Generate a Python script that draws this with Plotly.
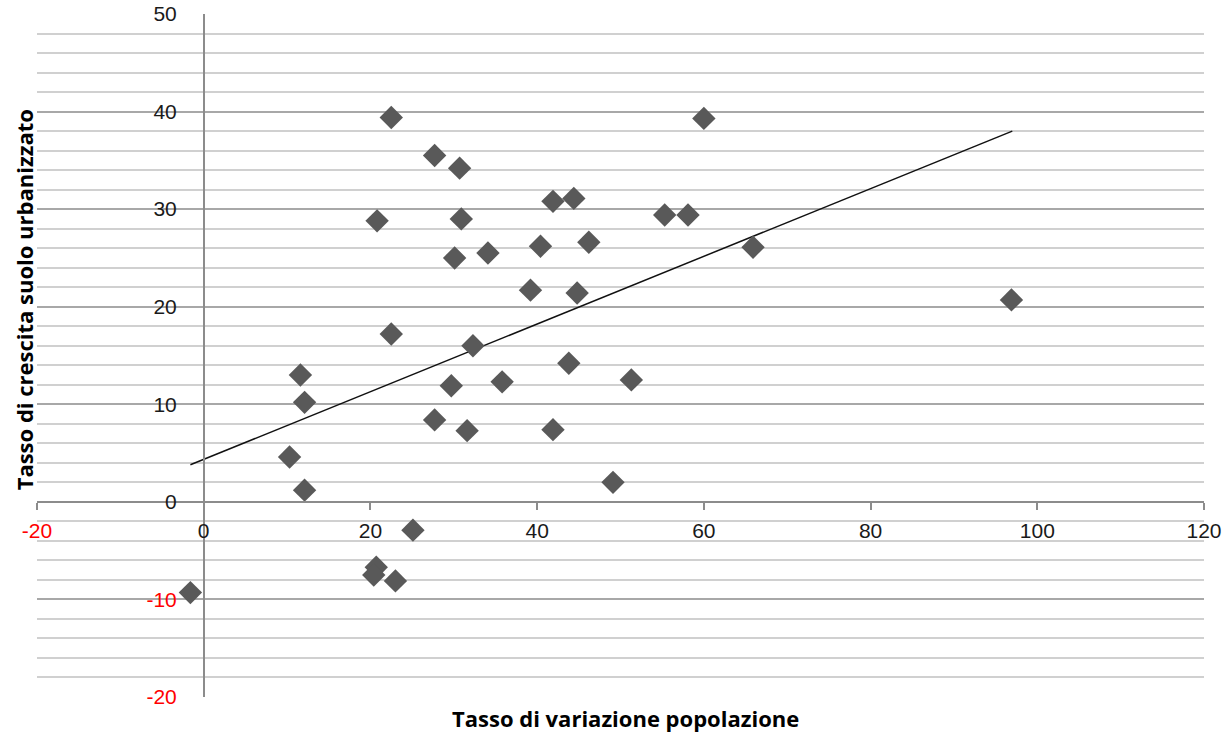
import plotly.graph_objects as go

# Data
pop_change = [22.5, 60.0, 27.7, 30.7, 41.9, 44.4, 20.8, 30.9, 55.3, 58.1,
              30.1, 34.1, 40.4, 46.2, 65.9, 39.2, 44.8, 96.9, 22.5, 32.3,
              11.6, 43.8, 51.3, 29.7, 35.8, 12.1, 27.7, 31.6, 41.9, 10.3,
              12.1, 49.1, 25.1, 20.7, 20.4, 23.0, -1.6]
urban_growth = [39.4, 39.3, 35.5, 34.2, 30.8, 31.1, 28.8, 29.0, 29.4, 29.4,
                25.0, 25.5, 26.2, 26.6, 26.1, 21.7, 21.4, 20.7, 17.2, 16.0,
                13.0, 14.2, 12.5, 11.9, 12.3, 10.2, 8.4, 7.3, 7.4, 4.6,
                1.2, 2.0, -2.9, -6.7, -7.5, -8.1, -9.3]

# Linear trend line endpoints (as drawn in the reference)
trend_x = [-1.6, 97.0]
trend_y = [3.8, 38.0]

x_tickvals = [-20, 0, 20, 40, 60, 80, 100, 120]
x_ticktext = ['<span style="color:#ff0000">-20</span>', '0', '20', '40', '60', '80', '100', '120']
y_tickvals = [-20, -10, 0, 10, 20, 30, 40, 50]
y_ticktext = ['<span style="color:#ff0000">-20</span>', '<span style="color:#ff0000">-10</span>',
              '0', '10', '20', '30', '40', '50']

x_range = [-20, 120]
y_range = [-20, 50]

fig = go.Figure()
fig.add_trace(go.Scatter(
    x=trend_x, y=trend_y, mode="lines",
    line=dict(color="#111111", width=1.5), showlegend=False, hoverinfo="skip"))
fig.add_trace(go.Scatter(
    x=pop_change, y=urban_growth, mode="markers",
    marker=dict(symbol="diamond", size=18, color="#595959", line=dict(width=0)),
    showlegend=False))

tick_font = dict(family="Liberation Sans, Arial, sans-serif", size=21, color="#1a1a1a")
title_font = dict(family="Open Sans, sans-serif", size=22, color="#000000")

fig.update_layout(
    width=1229, height=733,
    margin=dict(l=37, r=25, t=14, b=36, autoexpand=False),
    paper_bgcolor="white", plot_bgcolor="white",
    xaxis=dict(
        range=x_range, tickvals=x_tickvals, ticktext=x_ticktext,
        anchor="free", position=(0 - y_range[0]) / (y_range[1] - y_range[0]),
        showgrid=False, zeroline=False, automargin=False,
        showline=True, linecolor="#8c8c8c", linewidth=1.5,
        ticks="outside", ticklen=7, tickcolor="#8c8c8c", tickwidth=1.5,
        ticklabelstandoff=3, tickfont=tick_font,
    ),
    yaxis=dict(
        range=y_range, tickvals=y_tickvals, ticktext=y_ticktext,
        anchor="free", position=(0 - x_range[0]) / (x_range[1] - x_range[0]),
        showgrid=True, gridcolor="#a8a8a8", gridwidth=1.5,
        minor=dict(dtick=2, showgrid=True, gridcolor="#d0d0d0", gridwidth=1.5),
        zeroline=False, automargin=False,
        showline=True, linecolor="#8c8c8c", linewidth=1.5,
        ticks="", ticklabelstandoff=22, tickfont=tick_font,
    ),
    annotations=[
        dict(text="<b>Tasso di variazione popolazione</b>", xref="paper", yref="paper",
             x=0.504, y=-0.031, xanchor="center", yanchor="middle",
             showarrow=False, font=title_font),
        dict(text="<b>Tasso di crescita suolo urbanizzato</b>", xref="paper", yref="paper",
             x=-0.011, y=0.581, xanchor="center", yanchor="middle", textangle=-90,
             showarrow=False, font=title_font),
    ],
)

fig.write_html("out.html")
